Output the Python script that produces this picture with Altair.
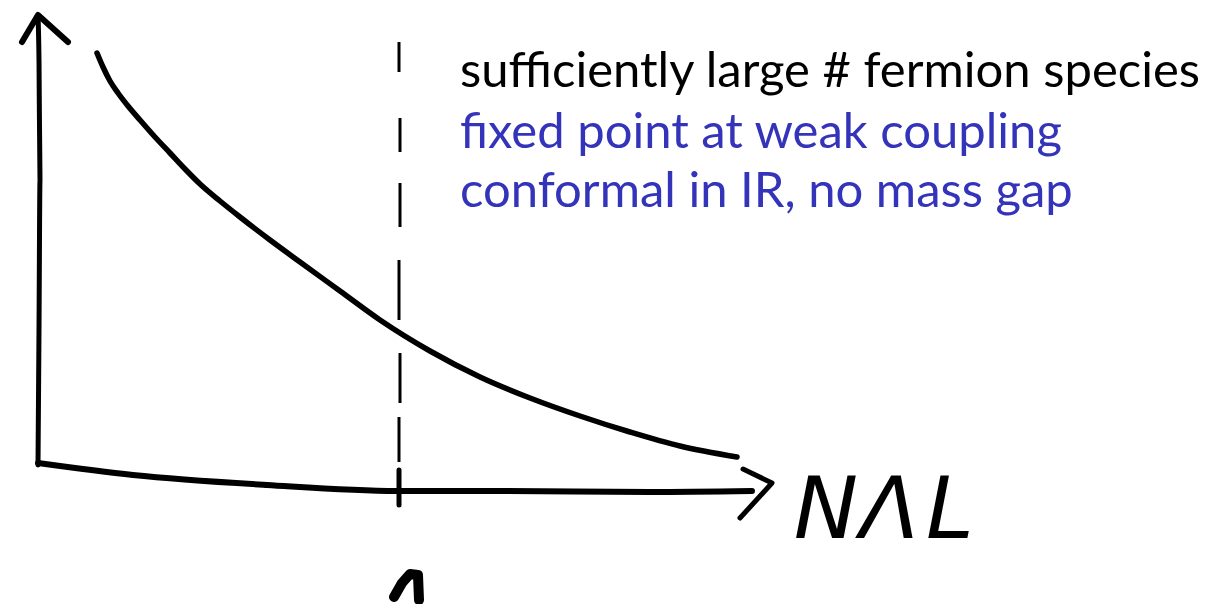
import altair as alt
import pandas as pd

W, H = 1225, 604

# Decreasing curve (sketch coordinates, y grows downward)
curve_x = [97, 103, 110, 118, 128, 140, 155, 170, 185, 200, 220, 240, 270, 300, 340, 380,
           430, 480, 530, 580, 630, 680, 737]
curve_y = [53, 67, 81, 93, 106, 120, 137, 153, 169, 184, 201, 217, 240, 262, 291, 320,
           351, 377, 398, 416, 432, 446, 457]

# Hand-drawn axes
yaxis_x = [38, 39, 40, 39, 38]
yaxis_y = [465, 330, 180, 60, 15]
xaxis_x = [38, 133, 267, 397, 500, 650, 752]
xaxis_y = [463, 475, 485, 491, 491, 492, 491]

# Arrow heads
yhead_x = [22, 38, 68]
yhead_y = [42, 15, 42]
xhead_x = [743, 772, 740]
xhead_y = [469, 483, 518]

# Dashed vertical marker
dash_x = [399, 400, 400, 399, 400, 399]
dash_y1 = [42, 118, 183, 260, 353, 417]
dash_y2 = [72, 152, 227, 320, 403, 462]

# Tick on the horizontal axis and the small mark below it
tick_x = [399, 399]
tick_y = [470, 505]
mark_x = [394, 402, 410, 418, 419]
mark_y = [597, 583, 574, 575, 600]

# Annotation lines
lines = ["sufficiently large # fermion species",
         "fixed point at weak coupling",
         "conformal in IR, no mass gap"]
line_colors = ["#000000", "#3434bb", "#3434bb"]
line_y = [87, 148, 207]

# Axis label letters
label_chars = ["N", "Λ", "L"]
label_x = [826, 890, 950]
label_y = [538, 538, 538]

xs = alt.Scale(domain=[0, W], nice=False, zero=False)
ys = alt.Scale(domain=[H, 0], nice=False, zero=False)


def path(xv, yv, width, interp="linear"):
    df = pd.DataFrame({"x": xv, "y": yv, "o": range(len(xv))})
    return alt.Chart(df).mark_line(
        color="black", strokeWidth=width, strokeCap="round",
        strokeJoin="round", interpolate=interp
    ).encode(
        x=alt.X("x:Q", scale=xs, axis=None),
        y=alt.Y("y:Q", scale=ys, axis=None),
        order="o:Q",
    )


curve = path(curve_x, curve_y, 5.5, "monotone")
yaxis = path(yaxis_x, yaxis_y, 5, "monotone")
xaxis = path(xaxis_x, xaxis_y, 6, "monotone")
yhead = path(yhead_x, yhead_y, 6)
xhead = path(xhead_x, xhead_y, 5)
tick = path(tick_x, tick_y, 5)
blob = path(mark_x, mark_y, 10)

dash_df = pd.DataFrame({"x": dash_x, "y1": dash_y1, "y2": dash_y2})
dashes = alt.Chart(dash_df).mark_rule(color="black", strokeWidth=3).encode(
    x=alt.X("x:Q", scale=xs, axis=None),
    y=alt.Y("y1:Q", scale=ys, axis=None),
    y2="y2:Q",
)

text_df = pd.DataFrame({"t": lines, "c": line_colors, "y": line_y, "x": [460] * 3})
texts = alt.Chart(text_df).mark_text(
    align="left", baseline="alphabetic", font="Lato", fontSize=49
).encode(
    x=alt.X("x:Q", scale=xs, axis=None),
    y=alt.Y("y:Q", scale=ys, axis=None),
    text="t:N",
    color=alt.Color("c:N", scale=None),
)

lab_df = pd.DataFrame({"t": label_chars, "x": label_x, "y": label_y})
label = alt.Chart(lab_df).mark_text(
    align="center", baseline="alphabetic", font="DejaVu Sans",
    fontStyle="italic", fontWeight=300, fontSize=86, color="black"
).encode(
    x=alt.X("x:Q", scale=xs, axis=None),
    y=alt.Y("y:Q", scale=ys, axis=None),
    text="t:N",
)

chart = alt.layer(
    yaxis, xaxis, yhead, xhead, dashes, tick, blob, curve, texts, label
).properties(
    width=W, height=H, padding=0, autosize="none", background="white"
).configure_view(stroke=None)

chart.save("out.html", embed_options={"renderer": "svg", "actions": False})
